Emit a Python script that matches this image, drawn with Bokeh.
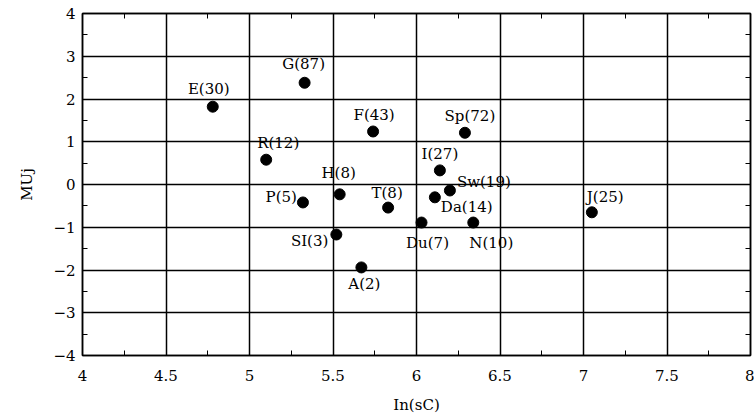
from bokeh.plotting import figure
from bokeh.models import (ColumnDataSource, FixedTicker, LinearAxis,
                          CustomJSTickFormatter, Range1d)
from bokeh.core.properties import value
from bokeh.embed import file_html
from bokeh.resources import INLINE

# ---- data ----
names = ["E", "G", "F", "Sp", "R", "I", "H", "P", "T", "Sw", "Da", "Du", "N", "SI", "A", "J"]
counts = [30, 87, 43, 72, 12, 27, 8, 5, 8, 19, 14, 7, 10, 3, 2, 25]
ln_sc = [4.78, 5.33, 5.74, 6.29, 5.10, 6.14, 5.54, 5.32, 5.83, 6.20, 6.11, 6.03, 6.34, 5.52, 5.67, 7.05]
mu_j = [1.82, 2.38, 1.24, 1.21, 0.58, 0.33, -0.23, -0.42, -0.54, -0.14, -0.30, -0.89, -0.89, -1.17, -1.94, -0.65]

x_ticks = [4, 4.5, 5, 5.5, 6, 6.5, 7, 7.5, 8]
y_ticks = [-4, -3, -2, -1, 0, 1, 2, 3, 4]

# label placement (screen px offsets, alignment)
lab_dx = [-4, -1, 1, 5, 12, 0, -1, -6, -1, 7, 6, 6, 18, -8, 3, -5]
lab_dy = [-18, -19, -16, -17, -17, -16, -21, -5, -15, -8, 10, 20, 20, 6, 17, -15]
lab_align = ["center", "center", "center", "center", "center", "center", "center", "right",
             "center", "left", "left", "center", "center", "right", "center", "left"]

labels = [f"{n}({c})" for n, c in zip(names, counts)]
src = ColumnDataSource(dict(x=ln_sc, y=mu_j, label=labels, dx=lab_dx, dy=lab_dy, align=lab_align))

FONT = "DejaVu Serif"

p = figure(width=754, height=416, output_backend="svg", toolbar_location=None,
           x_range=Range1d(4, 8), y_range=Range1d(-4, 4),
           min_border_left=82, min_border_right=4, min_border_top=13, min_border_bottom=60)
p.background_fill_color = "white"
p.border_fill_color = "white"
p.outline_line_color = "black"
p.outline_line_width = 1.5

xt = FixedTicker(ticks=x_ticks, minor_ticks=[4.25 + 0.5 * i for i in range(8)])
yt = FixedTicker(ticks=y_ticks, minor_ticks=[-3.5 + i for i in range(8)])

neg = CustomJSTickFormatter(code="return tick < 0 ? '\u2212' + Math.abs(tick) : String(tick);")
blank = CustomJSTickFormatter(code="return '';")

for ax, tk in ((p.xaxis[0], xt), (p.yaxis[0], yt)):
    ax.ticker = tk
    ax.axis_line_color = "black"
    ax.axis_line_width = 1.5
    ax.major_tick_in = 6
    ax.major_tick_out = 0
    ax.minor_tick_in = 5
    ax.minor_tick_out = 0
    ax.major_tick_line_color = "black"
    ax.minor_tick_line_color = "black"
    ax.major_label_text_font = FONT
    ax.major_label_text_font_size = "15px"
    ax.major_label_text_color = "black"
    ax.axis_label_text_font = FONT
    ax.axis_label_text_font_size = "15px"
    ax.axis_label_text_font_style = "normal"
    ax.axis_label_text_color = "black"

p.xaxis[0].major_label_standoff = 14
p.xaxis[0].axis_label = "In(sC)"
p.xaxis[0].axis_label_standoff = 12
p.yaxis[0].formatter = neg
p.yaxis[0].major_label_standoff = 7
p.yaxis[0].axis_label = "MUj"
p.yaxis[0].axis_label_standoff = 14

for loc, tk in (("above", xt), ("right", yt)):
    a = LinearAxis(ticker=tk, formatter=blank)
    a.axis_line_color = "black"
    a.axis_line_width = 1.5
    a.major_tick_in = 6
    a.major_tick_out = 0
    a.minor_tick_in = 5
    a.minor_tick_out = 0
    a.major_label_standoff = 0
    a.major_label_text_font_size = "1px"
    p.add_layout(a, loc)

p.xgrid.ticker = xt
p.ygrid.ticker = yt
for g in (p.xgrid, p.ygrid):
    g.grid_line_color = "black"
    g.grid_line_alpha = 1.0
    g.grid_line_width = 1.5

p.scatter("x", "y", source=src, size=11, color="black")
p.text("x", "y", text="label", source=src, x_offset="dx", y_offset="dy",
       text_align="align", text_baseline="middle",
       text_font=value(FONT), text_font_size="15px", text_color="black")

open("out.html", "w").write(file_html(p, INLINE))
